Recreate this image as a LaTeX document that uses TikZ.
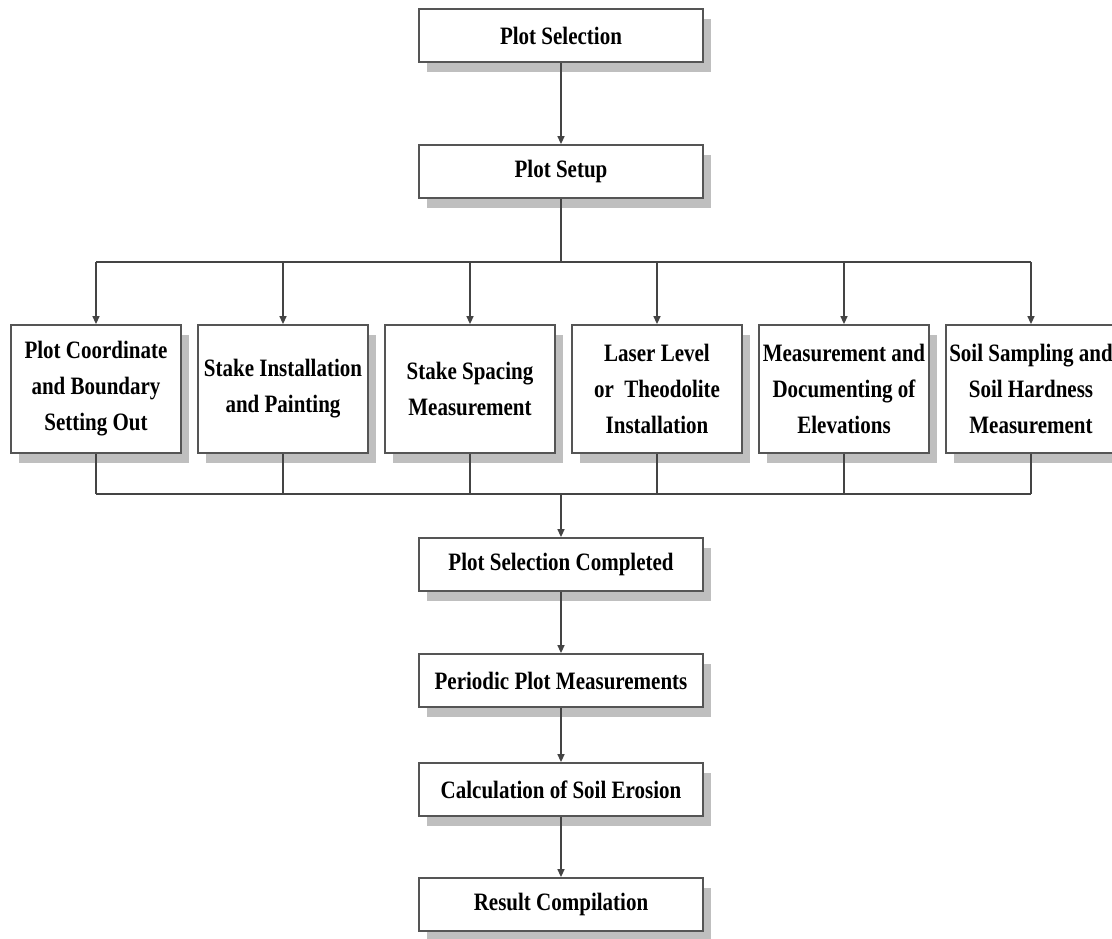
\documentclass[tikz,border=0pt]{standalone}
\usepackage{fontspec}
\setmainfont{Liberation Serif}[FakeStretch=0.84]
\usetikzlibrary{arrows.meta,shadows}
\definecolor{edgegray}{HTML}{555555}
\definecolor{linegray}{HTML}{444444}
\begin{document}
\begin{tikzpicture}[x=1pt,y=-1pt,
  box/.style={draw=edgegray, line width=1.8pt, fill=white, align=center,
    font=\fontsize{25}{36}\selectfont\bfseries, inner sep=2pt,
    drop shadow={shadow xshift=8pt, shadow yshift=-10pt, fill=black!25, opacity=1}},
  colbox/.style={box, minimum width=284pt, minimum height=53pt},
  rowbox/.style={box, minimum width=170pt, minimum height=128pt},
  conn/.style={draw=linegray, line width=1.4pt},
  arr/.style={conn, -{Triangle[length=8pt,width=7pt]}}]
\useasboundingbox (0,0) rectangle (1112,938);
\fill[white] (0,0) rectangle (1112,938);

\node[colbox] (sel) at (561,35.5) {Plot Selection};
\node[colbox] (setup) at (561,171.5) {Plot Setup};

\node[rowbox] (r1) at (96,389) {Plot Coordinate\\and Boundary\\Setting Out};
\node[rowbox] (r2) at (283,389) {Stake Installation\\and Painting};
\node[rowbox] (r3) at (470,389) {Stake Spacing\\Measurement};
\node[rowbox] (r4) at (657,389) {Laser Level\\or\ \ Theodolite\\Installation};
\node[rowbox] (r5) at (844,389) {Measurement and\\Documenting of\\Elevations};
\node[rowbox] (r6) at (1031,389) {Soil Sampling and\\Soil Hardness\\Measurement};

\node[colbox] (done) at (561,564.5) {Plot Selection Completed};
\node[colbox] (per) at (561,680.5) {Periodic Plot Measurements};
\node[colbox] (calc) at (561,789.5) {Calculation of Soil Erosion};
\node[colbox] (res) at (561,904.5) {Result Compilation};

\coordinate (top) at (561,262);
\coordinate (bot) at (561,494);

\draw[arr] (sel) -- (setup);
\draw[conn] (setup.south) -- (top);
\draw[conn] (r1.north |- top) -- (r6.north |- top);
\foreach \r in {r1,r2,r3,r4,r5,r6}{
  \draw[arr] (\r.north |- top) -- (\r.north);
  \draw[conn] (\r.south) -- (\r.south |- bot);
}
\draw[conn] (r1.south |- bot) -- (r6.south |- bot);
\draw[arr] (bot) -- (done);
\draw[arr] (done) -- (per);
\draw[arr] (per) -- (calc);
\draw[arr] (calc) -- (res);
\end{tikzpicture}
\end{document}
